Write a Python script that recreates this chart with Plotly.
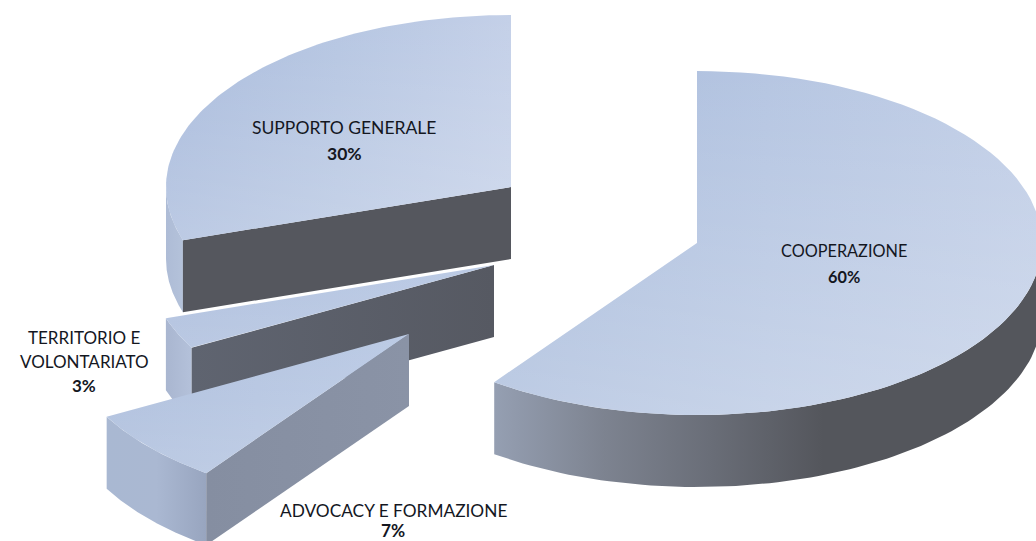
import numpy as np
import plotly.graph_objects as go

# ---- data ----
categories = ["COOPERAZIONE", "ADVOCACY E FORMAZIONE", "TERRITORIO E|VOLONTARIATO", "SUPPORTO GENERALE"]
shares = [60, 7, 3, 30]

# ---- layout of the exploded 3D pie (projection and explode positions) ----
W, H = 1036, 541
RX, RY, DEPTH = 345, 172, 72
apex = [(697, 243), (409, 334), (494, 265), (511, 187)]
label_top = [(844, 250), (393, 510), (84, 337), (344, 127)]
LINE_GAP = [26, 20, 24, 26]
LABEL_SIZE = [16.3, 17.3, 17, 17.5]
FONT = "Lato"


def pt(ap, deg):
    a = np.radians(deg)
    return ap[0] + RX * np.sin(a), ap[1] - RY * np.cos(a)


def arc(ap, d0, d1, n=90, dz=0):
    t = np.linspace(d0, d1, n)
    x, y = pt(ap, t)
    return x, y + dz


def poly(x, y, stops, gtype="horizontal"):
    grad = dict(type=gtype, colorscale=[[i / (len(stops) - 1), c] for i, c in enumerate(stops)])
    return go.Scatter(x=np.r_[x, x[0]], y=np.r_[y, y[0]], mode="lines", line=dict(width=0),
                      fill="toself", fillgradient=grad, hoverinfo="skip", showlegend=False)


def top_face(ap, d0, d1, stops, sheen=0.22):
    ax, ay = arc(ap, d0, d1)
    x, y = np.r_[ap[0], ax], np.r_[ap[1], ay]
    fig.add_trace(poly(x, y, stops))
    fig.add_trace(poly(x, y, [f"rgba(255,255,255,{sheen})", "rgba(255,255,255,0)"], "vertical"))


def rim(ap, d0, d1, stops):
    ax, ay = arc(ap, d0, d1)
    bx, by = arc(ap, d1, d0, dz=DEPTH)
    fig.add_trace(poly(np.r_[ax, bx], np.r_[ay, by], stops))


def cut(ap, deg, stops):
    ex, ey = pt(ap, deg)
    fig.add_trace(poly(np.array([ap[0], ex, ex, ap[0]]),
                       np.array([ap[1], ey, ey + DEPTH, ap[1] + DEPTH]), stops))


# angle boundaries come from the shares, clockwise from 12 o'clock
edges = np.r_[0, np.cumsum(shares)] * 3.6
fig = go.Figure()

# supporto generale
a0, a1 = edges[3], edges[4]
rim(apex[3], a0, a1 - 90, ["#aebcd6", "#b4c2da"])
cut(apex[3], a0, ["#55575e", "#55575e"])
top_face(apex[3], a0, a1, ["#a9bbdc", "#b6c6e2", "#c4d0e8"])

# territorio e volontariato
a0, a1 = edges[2], edges[3]
rim(apex[2], a0, a1, ["#a9b6d0", "#b4c1da"])
cut(apex[2], a0, ["#5f6470", "#565962"])
top_face(apex[2], a0, a1, ["#b2c2df", "#bccbe5"], sheen=0.1)

# advocacy e formazione
a0, a1 = edges[1], edges[2]
rim(apex[1], a0, a1, ["#a9b8d2", "#aab8d2", "#98a5bf"])
cut(apex[1], a0, ["#858ea1", "#8a93a6"])
top_face(apex[1], a0, a1, ["#aebfdd", "#bccbe5"], sheen=0.15)

# cooperazione
a0, a1 = edges[0], edges[1]
rim(apex[0], a0 + 90, a1, ["#959fb2", "#7d8390", "#696d77", "#54565c", "#54565c", "#54565c"])
top_face(apex[0], a0, a1, ["#a8bbdb", "#b6c6e2", "#c2cfe7"], sheen=0.25)

annotations = []
for c, v, p, gap, size in zip(categories, shares, label_top, LINE_GAP, LABEL_SIZE):
    lines = c.split("|") + [f"<b>{v}%</b>"]
    for i, line in enumerate(lines):
        annotations.append(dict(x=p[0], y=p[1] + i * gap, xref="x", yref="y", showarrow=False,
                                text=line, font=dict(family=FONT, size=size, color="#14171f")))

fig.update_layout(
    width=W, height=H, margin=dict(l=0, r=0, t=0, b=0),
    paper_bgcolor="white", plot_bgcolor="white", annotations=annotations,
    xaxis=dict(range=[0, W], visible=False, fixedrange=True),
    yaxis=dict(range=[H, 0], visible=False, fixedrange=True),
)
fig.write_html("out.html", config=dict(displayModeBar=False),
               post_script="document.body.style.margin='0';document.body.style.overflow='hidden';")
